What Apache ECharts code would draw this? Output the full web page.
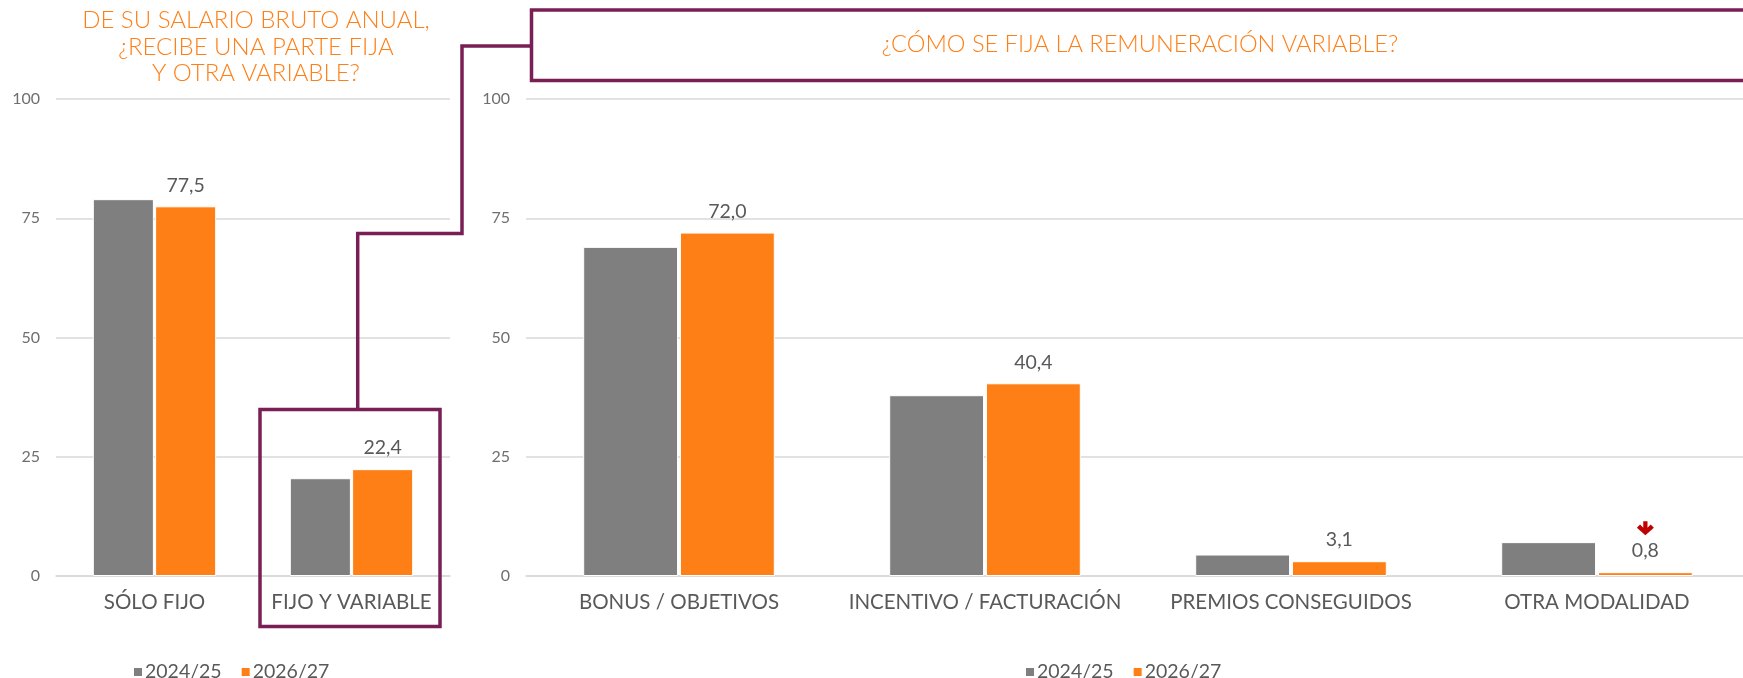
<!DOCTYPE html>
<html>
<head>
<meta charset="utf-8">
<script src="https://cdn.jsdelivr.net/npm/echarts@6/dist/echarts.min.js"></script>
<style>
  html, body { margin: 0; padding: 0; background: #ffffff; }
  #chart { width: 1743px; height: 678px; }
</style>
</head>
<body>
<div id="chart"></div>
<script>
// datos
const seriesNames = ['2024/25', '2026/27']
const catsLeft = ['SÓLO FIJO', 'FIJO Y VARIABLE']
const prevLeft = [79.0, 20.5]
const currLeft = [77.5, 22.4]
const catsRight = ['BONUS / OBJETIVOS', 'INCENTIVO / FACTURACIÓN', 'PREMIOS CONSEGUIDOS', 'OTRA MODALIDAD']
const prevRight = [69.0, 37.9, 4.5, 7.1]
const currRight = [72.0, 40.4, 3.1, 0.8]
const yTicks = [0, 25, 50, 75, 100]

const GRAY = '#7f7f7f'
const ORANGE = '#ff7f17'
const PURPLE = '#7a1f55'
const TEXT = '#595959'
const FONT = 'Lato'

const fmt = p => p.value.toFixed(1).replace('.', ',')

function yAxis (gridIndex) {
  return {
    type: 'value',
    gridIndex,
    min: yTicks[0],
    max: yTicks[yTicks.length - 1],
    interval: yTicks[1] - yTicks[0],
    axisLabel: { color: '#6f6f6f', fontSize: 16, fontFamily: FONT, margin: 16 },
    splitLine: { lineStyle: { color: '#d9d9d9', width: 1.5 } },
    axisLine: { show: false },
    axisTick: { show: false }
  }
}

function xAxis (gridIndex, data) {
  return {
    type: 'category',
    gridIndex,
    data,
    axisTick: { show: false },
    axisLine: { lineStyle: { color: '#d9d9d9', width: 1.5 } },
    axisLabel: { color: TEXT, fontSize: 20.5, fontFamily: FONT, margin: 16, interval: 0 }
  }
}

function bars (name, idx, data, color, withLabel) {
  return {
    name,
    type: 'bar',
    xAxisIndex: idx,
    yAxisIndex: idx,
    data,
    barWidth: '31%',
    barGap: '2%',
    itemStyle: { color, borderColor: '#ffffff', borderWidth: 1 },
    label: {
      show: withLabel,
      position: 'top',
      distance: 11,
      formatter: fmt,
      color: TEXT,
      fontSize: 19.5,
      fontFamily: FONT
    }
  }
}

function legend (left) {
  return {
    data: seriesNames,
    left,
    top: 657,
    itemWidth: 10,
    itemHeight: 10,
    itemGap: 18,
    icon: 'rect',
    textStyle: { color: TEXT, fontSize: 19.5, fontFamily: FONT, padding: [0, 0, 0, -3] }
  }
}

const rightOrange = bars(seriesNames[1], 1, currRight, ORANGE, true)
// flecha roja de bajada en OTRA MODALIDAD
rightOrange.markPoint = {
  symbol: 'path://M6,0 L10,0 L10,6 L13,3 L16,6 L8,13 L0,6 L3,3 L6,6 Z',
  symbolSize: [17, 14],
  symbolOffset: [0, -44],
  itemStyle: { color: '#c00000' },
  label: { show: false },
  data: [{ coord: [3, currRight[3]] }]
}

const titleStyle = {
  fill: ORANGE,
  fontFamily: FONT,
  fontWeight: 300,
  textAlign: 'center',
  textVerticalAlign: 'middle'
}

const option = {
  animation: false,
  textStyle: { fontFamily: FONT },
  legend: [legend(127), legend(1019)],
  grid: [
    { left: 56, top: 99, width: 394, height: 477, outerBoundsMode: 'none' },
    { left: 526, top: 99, width: 1224, height: 477, outerBoundsMode: 'none' }
  ],
  xAxis: [xAxis(0, catsLeft), xAxis(1, catsRight)],
  yAxis: [yAxis(0), yAxis(1)],
  series: [
    bars(seriesNames[0], 0, prevLeft, GRAY, false),
    bars(seriesNames[1], 0, currLeft, ORANGE, true),
    bars(seriesNames[0], 1, prevRight, GRAY, false),
    rightOrange
  ],
  graphic: [
    {
      type: 'text',
      x: 256,
      y: 47,
      style: Object.assign({
        text: 'DE SU SALARIO BRUTO ANUAL,\n¿RECIBE UNA PARTE FIJA\nY OTRA VARIABLE?',
        fontSize: 24,
        lineHeight: 26.5
      }, titleStyle)
    },
    {
      type: 'text',
      x: 1140,
      y: 44,
      style: Object.assign({
        text: '¿CÓMO SE FIJA LA REMUNERACIÓN VARIABLE?',
        fontSize: 23.6
      }, titleStyle)
    },
    {
      type: 'rect',
      shape: { x: 531.5, y: 10, width: 1240, height: 70.5 },
      style: { fill: 'none', stroke: PURPLE, lineWidth: 3.5 },
      z: 10
    },
    {
      type: 'polyline',
      shape: { points: [[531, 46], [462, 46], [462, 233.5], [357.7, 233.5], [357.7, 409.5]] },
      style: { fill: 'none', stroke: PURPLE, lineWidth: 3.5 },
      z: 10
    },
    {
      type: 'rect',
      shape: { x: 260, y: 409.5, width: 180, height: 217 },
      style: { fill: 'none', stroke: PURPLE, lineWidth: 3.5 },
      z: 10
    }
  ]
}

const myChart = echarts.init(document.getElementById('chart'))
myChart.setOption(option)
</script>
</body>
</html>
